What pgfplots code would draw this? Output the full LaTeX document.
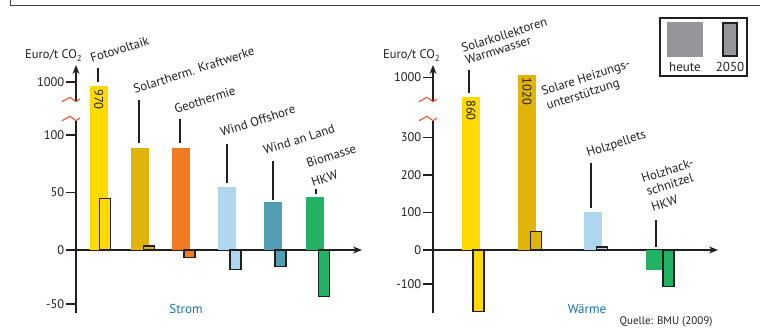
\documentclass[border=0pt]{standalone}
\usepackage{fontspec}
\setmainfont{PT Sans}
\usepackage{pgfplots}
\pgfplotsset{compat=1.18}
\usetikzlibrary{arrows.meta}
\definecolor{cFoto}{RGB}{255,218,0}
\definecolor{cSolT}{RGB}{225,180,12}
\definecolor{cGeo}{RGB}{242,122,32}
\definecolor{cWOff}{RGB}{174,214,238}
\definecolor{cWLand}{RGB}{82,158,180}
\definecolor{cBio}{RGB}{34,178,100}
\definecolor{cGray}{RGB}{150,150,154}
\definecolor{cBlue}{RGB}{20,115,190}
\definecolor{cRed}{RGB}{240,85,50}
\definecolor{cTxt}{RGB}{35,31,32}

% heute bar: colour, x, value
\newcommand{\heute}[3]{\addplot[ybar, bar width=18pt, bar shift=0pt, fill=#1, draw=none] coordinates {(#2,#3)};}
% heute bar with value written inside: colour, x, value
\newcommand{\heutelab}[3]{\addplot[ybar, bar width=18pt, bar shift=0pt, fill=#1, draw=none,
  nodes near coords={#3},
  every node near coord/.append style={rotate=-90, anchor=west, inner sep=0pt, inner xsep=3pt,
    font=\fontsize{12.5}{12.5}\selectfont, text=cTxt}] coordinates {(#2,#3)};}
% 2050 bar: colour, x, value
\newcommand{\zukunft}[3]{\addplot[ybar, bar width=11pt, bar shift=0pt, fill=#1, draw=cTxt, line width=1.3pt] coordinates {(#2,#3)};}
\newcommand{\lab}[3]{\node[rotate=18, anchor=base west, inner sep=0pt, font=\fontsize{12.7}{12.7}\selectfont, text=cTxt] at (#1pt,#2pt) {#3};}
\newcommand{\lead}[3]{\draw[cTxt, line width=1.3pt] (#1pt,#2pt) -- (#1pt,#3pt);}
\newcommand{\wave}[2]{\draw[cRed, line width=1.1pt, line join=round] (#1pt-14pt,#2pt-1.7pt) -- (#1pt-6pt,#2pt+2.7pt) -- (#1pt,#2pt-1.7pt) -- (#1pt+4pt,#2pt+1pt);}
\newcommand{\axbreak}[3]{\fill[white] (#1pt-2.5pt,#3pt-1.7pt) rectangle (#1pt+2.5pt,#2pt-1.7pt); \wave{#1}{#2} \wave{#1}{#3}}

\pgfplotsset{
  brk/.style={
    scale only axis,
    axis x line=middle,
    axis y line=left,
    axis line style={line width=1.4pt, color=cTxt, -{Stealth[length=9pt,width=7pt]}},
    xtick=\empty,
    ytick pos=left,
    tick align=outside,
    major tick length=10pt,
    tick style={line width=1.3pt, color=cTxt},
    yticklabel style={font=\fontsize{12.5}{12.5}\selectfont, text=cTxt, inner sep=1.5pt},
    clip=false,
  }
}

\begin{document}
\begin{tikzpicture}[x=1pt,y=1pt]
\path[use as bounding box] (0,0) rectangle (760,335);
% frame
\draw[black!75, line width=1.8pt] (10.5,335) -- (10.5,329.5) -- (760,329.5);

% ---------- Strom ----------
\begin{axis}[brk, at={(76pt,22pt)}, anchor=south west,
  width=286pt, height=248pt, xmin=0, xmax=286,
  ymin=-58.33, ymax=1127.5,
  y coord trafo/.code={\pgfmathparse{(#1>200)?(164+(#1-970)*0.1333):((#1<0)?(1.08*(#1)):(1.15*(#1)))}},
  ytick={-50,0,50,100,1000}, yticklabels={-50,0,50,100,1000}]
\heutelab{cFoto}{22.8}{970} \zukunft{cFoto}{29.3}{45}
\heute{cSolT}{64}{89}      \zukunft{cSolT}{72.7}{3.5}
\heute{cGeo}{104.8}{89}    \zukunft{cGeo}{113.5}{-7}
\heute{cWOff}{150.7}{55}   \zukunft{cWOff}{159.5}{-18}
\heute{cWLand}{196.5}{42}  \zukunft{cWLand}{204.5}{-15}
\heute{cBio}{239}{46}      \zukunft{cBio}{247.7}{-43}
\end{axis}

% ---------- Waerme ----------
\begin{axis}[brk, at={(433pt,22pt)}, anchor=south west,
  width=285pt, height=248pt, xmin=0, xmax=285,
  ymin=-185.3, ymax=1088.6,
  y coord trafo/.code={\pgfmathparse{(#1>400)?(153+(#1-860)*0.14):((#1<0)?(0.34*(#1)):(0.375*(#1)))}},
  ytick={-100,0,100,200,300,1000}, yticklabels={-100,0,100,200,300,1000}]
\heutelab{cFoto}{38}{860}  \zukunft{cFoto}{45.5}{-180}
\heutelab{cSolT}{94}{1020} \zukunft{cSolT}{103}{50}
\heute{cWOff}{160}{102}    \zukunft{cWOff}{169}{8}
\heute{cBio}{221.5}{-58}   \zukunft{cBio}{235.5}{-108}
\end{axis}

% axis breaks
\axbreak{76}{235}{216}
\axbreak{433}{235}{216}

% y-axis titles
\node[anchor=base west, inner sep=0pt, font=\fontsize{12.5}{12.5}\selectfont, text=cTxt] at (25,276) {Euro/t CO\textsubscript{2}};
\node[anchor=base west, inner sep=0pt, font=\fontsize{12.5}{12.5}\selectfont, text=cTxt] at (383,276) {Euro/t CO\textsubscript{2}};

% category labels (Strom)
\lab{92}{272}{Fotovoltaik}
\lab{135}{241}{Solartherm. Kraftwerke}
\lab{176}{221}{Geothermie}
\lab{222}{198}{Wind Offshore}
\lab{265}{180}{Wind an Land}
\lab{308}{167}{Biomasse}
\lab{313}{148}{HKW}
\lead{98}{267}{253}
\lead{139}{235}{192}
\lead{180}{216}{192}
\lead{227}{191}{152}
\lead{273}{174}{135}
\lead{316}{146}{141}

% category labels (Waerme)
\lab{463}{282}{Solarkollektoren}
\lab{467}{270}{Warmwasser}
\lab{543}{239}{Solare Heizungs-}
\lab{548}{225}{unterstützung}
\lab{588}{178}{Holzpellets}
\lab{643}{152}{Holzhack-}
\lab{648}{139}{schnitzel}
\lab{653}{123}{HKW}
\lead{469}{265}{242}
\lead{591}{172}{127}
\lead{656}{115}{88}

% group names and source
\node[text=cBlue, font=\fontsize{13}{13}\selectfont] at (186,26) {Strom};
\node[text=cBlue, font=\fontsize{13}{13}\selectfont] at (587,26) {Wärme};
\node[text=cTxt, font=\fontsize{11}{11}\selectfont] at (666,13) {Quelle: BMU (2009)};

% legend
\draw[cTxt, line width=1.3pt] (660,259) rectangle (747,317);
\fill[cGray] (667,278) rectangle (703,313);
\draw[cTxt, fill=cGray, line width=1.4pt] (723,279) rectangle (737,312);
\node[anchor=base, inner sep=0pt, text=cTxt, font=\fontsize{13}{13}\selectfont] at (685,263.5) {heute};
\node[anchor=base, inner sep=0pt, text=cTxt, font=\fontsize{13}{13}\selectfont] at (730,263.5) {2050};
\end{tikzpicture}
\end{document}
